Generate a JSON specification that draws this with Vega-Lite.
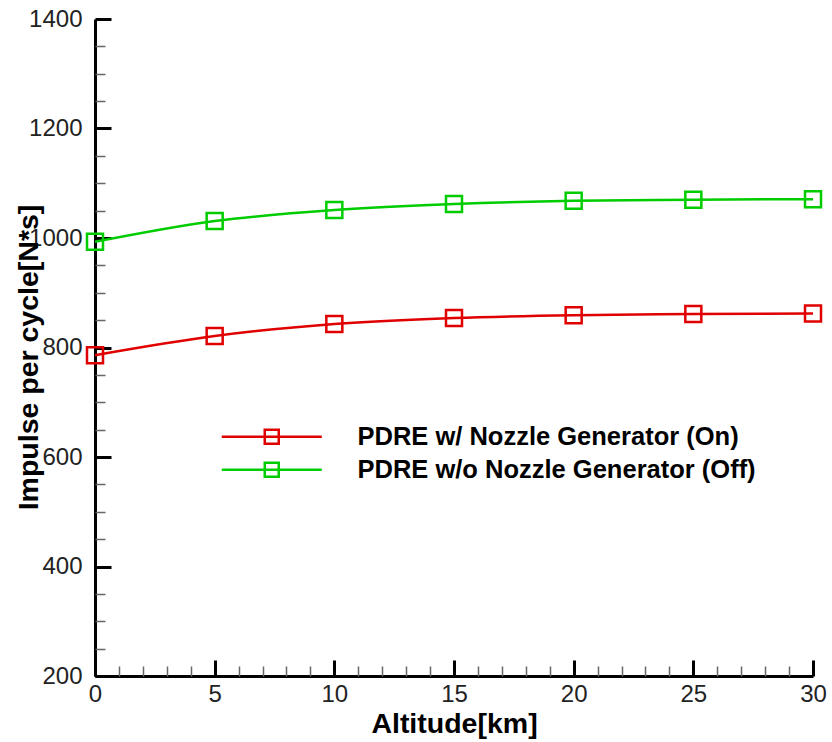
{
  "$schema": "https://vega.github.io/schema/vega-lite/v6.json",
  "autosize": {"type": "none"},
  "padding": {"left": 95, "top": 19, "right": 19, "bottom": 66},
  "width": 718,
  "height": 657,
  "background": "white",
  "config": {
    "view": {"stroke": null},
    "font": "Liberation Sans",
    "axis": {"grid": false}
  },
  "data": {
    "values": [
      {"altitude": 0, "impulse": 786, "series": "PDRE w/ Nozzle Generator (On)"},
      {"altitude": 5, "impulse": 821, "series": "PDRE w/ Nozzle Generator (On)"},
      {"altitude": 10, "impulse": 843, "series": "PDRE w/ Nozzle Generator (On)"},
      {"altitude": 15, "impulse": 854, "series": "PDRE w/ Nozzle Generator (On)"},
      {"altitude": 20, "impulse": 859, "series": "PDRE w/ Nozzle Generator (On)"},
      {"altitude": 25, "impulse": 861, "series": "PDRE w/ Nozzle Generator (On)"},
      {"altitude": 30, "impulse": 862, "series": "PDRE w/ Nozzle Generator (On)"},
      {"altitude": 0, "impulse": 993, "series": "PDRE w/o Nozzle Generator (Off)"},
      {"altitude": 5, "impulse": 1031, "series": "PDRE w/o Nozzle Generator (Off)"},
      {"altitude": 10, "impulse": 1051, "series": "PDRE w/o Nozzle Generator (Off)"},
      {"altitude": 15, "impulse": 1062, "series": "PDRE w/o Nozzle Generator (Off)"},
      {"altitude": 20, "impulse": 1068, "series": "PDRE w/o Nozzle Generator (Off)"},
      {"altitude": 25, "impulse": 1070, "series": "PDRE w/o Nozzle Generator (Off)"},
      {"altitude": 30, "impulse": 1071, "series": "PDRE w/o Nozzle Generator (Off)"}
    ]
  },
  "layer": [
    {
      "mark": {"type": "line", "interpolate": "monotone", "strokeWidth": 2.5},
      "encoding": {
        "x": {
          "field": "altitude", "type": "quantitative",
          "scale": {"domain": [0, 30], "nice": false, "zero": false},
          "axis": {
            "orient": "bottom",
            "title": "Altitude[km]",
            "values": [0, 5, 10, 15, 20, 25, 30],
            "format": "d",
            "domainColor": "black", "domainWidth": 3,
            "tickColor": "black", "tickWidth": 3, "tickSize": -16,
            "labelPadding": 22, "labelFontSize": 24, "labelColor": "#222",
            "labelFlush": false, "labelOverlap": false,
            "titleFontSize": 28.5, "titleFontWeight": "bold", "titleColor": "black",
            "titleX": 359, "titleY": 33, "titleBaseline": "top"
          }
        },
        "y": {
          "field": "impulse", "type": "quantitative",
          "scale": {"domain": [200, 1400], "nice": false, "zero": false},
          "axis": {
            "orient": "left",
            "title": "Impulse per cycle[N*s]",
            "values": [200, 400, 600, 800, 1000, 1200, 1400],
            "format": "d",
            "domainColor": "black", "domainWidth": 3,
            "tickColor": "black", "tickWidth": 3, "tickSize": -16,
            "labelPadding": 29, "labelFontSize": 24, "labelColor": "#222",
            "labelFlush": false, "labelOverlap": false,
            "titleFontSize": 28.5, "titleFontWeight": "bold", "titleColor": "black",
            "titleX": -52, "titleY": 338, "titleBaseline": "bottom", "titleAngle": -90
          }
        },
        "color": {
          "field": "series", "type": "nominal",
          "scale": {
            "domain": ["PDRE w/ Nozzle Generator (On)", "PDRE w/o Nozzle Generator (Off)"],
            "range": ["#e00000", "#00cc00"]
          },
          "legend": {
            "orient": "none",
            "legendX": 164,
            "legendY": 405,
            "title": null,
            "padding": 0,
            "symbolType": "M-5,0H5M-0.7,-0.7H0.7V0.7H-0.7Z",
            "symbolSize": 400,
            "symbolStrokeWidth": 2.5,
            "symbolOpacity": 1,
            "symbolFillColor": "transparent",
            "labelFontSize": 25.5,
            "labelFontWeight": "bold",
            "labelColor": "black",
            "labelOffset": 73,
            "rowPadding": 6,
            "labelLimit": 600
          }
        }
      }
    },
    {
      "mark": {"type": "point", "shape": "square", "filled": false, "size": 256, "strokeWidth": 2.5, "opacity": 1},
      "encoding": {
        "x": {
          "field": "altitude", "type": "quantitative",
          "axis": {
            "orient": "bottom",
            "title": null, "labels": false, "domain": false,
            "values": [1, 2, 3, 4, 6, 7, 8, 9, 11, 12, 13, 14, 16, 17, 18, 19, 21, 22, 23, 24, 26, 27, 28, 29],
            "tickColor": "#666", "tickWidth": 1.5, "tickSize": -10
          }
        },
        "y": {
          "field": "impulse", "type": "quantitative",
          "axis": {
            "orient": "left",
            "title": null, "labels": false, "domain": false,
            "values": [250, 300, 350, 450, 500, 550, 650, 700, 750, 850, 900, 950, 1050, 1100, 1150, 1250, 1300, 1350],
            "tickColor": "#666", "tickWidth": 1.5, "tickSize": -10
          }
        },
        "color": {"field": "series", "type": "nominal"}
      }
    }
  ],
  "resolve": {"axis": {"x": "independent", "y": "independent"}}
}
